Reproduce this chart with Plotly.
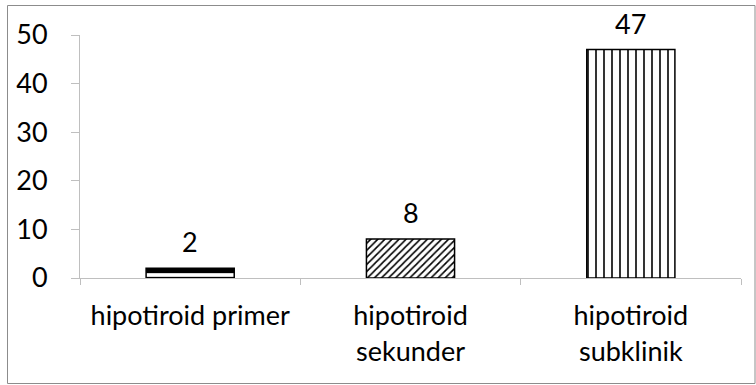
import plotly.graph_objects as go

categories = ["hipotiroid primer", "hipotiroid<br>sekunder", "hipotiroid<br>subklinik"]
values = [2, 8, 47]
patterns = ["-", "/", "|"]
pattern_sizes = [10, 5, 8]
pattern_solidity = [0.63, 0.32, 0.2]
y_ticks = [0, 10, 20, 30, 40, 50]

FONT = "Lato"
FS = 27
AXIS_GRAY = "#BFBFBF"

fig = go.Figure()
fig.add_trace(go.Bar(
    x=categories,
    y=values,
    width=0.4,
    marker=dict(
        color="white",
        line=dict(color="black", width=1.5),
        pattern=dict(shape=patterns, size=pattern_sizes, solidity=pattern_solidity,
                     fgcolor="black", bgcolor="white", fgopacity=1, fillmode="replace"),
    ),
    hoverinfo="skip",
))

for c, v in zip(categories, values):
    fig.add_annotation(x=c, y=v, text=str(v), showarrow=False, yanchor="bottom",
                       yshift=8, font=dict(family=FONT, size=FS, color="black"))

fig.add_shape(type="rect", xref="paper", yref="paper",
              x0=(7.5 - 80) / 661, x1=(755 - 80) / 661,
              y0=-(383.5 - 278) / 243, y1=(278 - 5.5) / 243,
              line=dict(color="#8C8C8C", width=1), fillcolor="rgba(0,0,0,0)", layer="below")

fig.update_layout(
    width=756, height=385,
    margin=dict(l=80, r=15, t=35, b=107),
    paper_bgcolor="white", plot_bgcolor="white",
    showlegend=False,
    font=dict(family=FONT, size=FS, color="black"),
    xaxis=dict(
        type="category",
        tickson="boundaries",
        ticks="outside", ticklen=6, tickcolor=AXIS_GRAY, tickwidth=1,
        showline=True, linecolor=AXIS_GRAY, linewidth=1,
        showgrid=False, zeroline=False,
        tickfont=dict(family=FONT, size=FS, color="black"),
        ticklabelstandoff=14,
    ),
    yaxis=dict(
        range=[0, 50],
        tickvals=y_ticks,
        ticks="outside", ticklen=8, tickcolor=AXIS_GRAY, tickwidth=1,
        showline=True, linecolor=AXIS_GRAY, linewidth=1,
        showgrid=False, zeroline=False,
        tickfont=dict(family=FONT, size=FS, color="black"),
        ticklabelstandoff=18,
    ),
)

fig.write_html("out.html")
